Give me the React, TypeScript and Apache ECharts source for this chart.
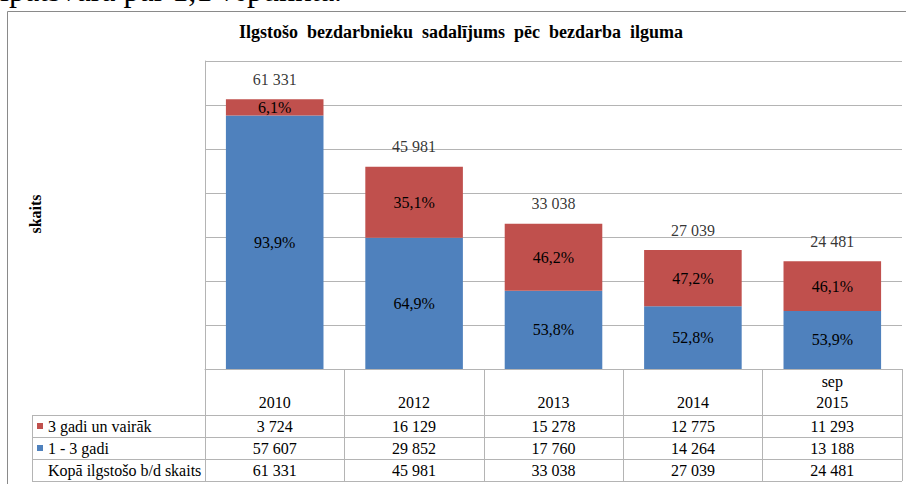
import React, { useEffect, useRef } from "react";
import * as echarts from "echarts";

const categories = ["2010", "2012", "2013", "2014", "sep\n2015"];
const seriesNames = ["1 - 3 gadi", "3 gadi un vairāk"];
const oneToThree = [57607, 29852, 17760, 14264, 13188];
const threePlus = [3724, 16129, 15278, 12775, 11293];
const totals = [61331, 45981, 33038, 27039, 24481];
const rowLabels = ["3 gadi un vairāk", "1 - 3 gadi", "Kopā ilgstošo b/d skaits"];
const tableRows = [threePlus, oneToThree, totals];
const yMin = 0;
const yMax = 70000;
const yStep = 10000;

const BLUE = "#4F81BD";
const RED = "#C0504D";
const GRID = "#b4b4b4";
const FONT = "Liberation Serif";

const fmt = (n: number) => String(n).replace(/\B(?=(\d{3})+(?!\d))/g, " ");
const pct = (v: number, i: number) =>
  ((v / totals[i]) * 100).toFixed(1).replace(".", ",") + "%";

export default function App() {
  const ref = useRef<HTMLDivElement>(null);
  useEffect(() => {
    if (!ref.current) return;
    const chart = echarts.init(ref.current, null, { renderer: "svg" });
    const rowCenters = [426, 448, 470];
    const lineYs = [415, 437, 459, 481];
    const graphic: any[] = [
      {
        type: "text",
        x: 0,
        y: -10,
        style: {
          text: "īpatsvara par 1,1 %punkta.",
          fontFamily: FONT,
          fontSize: 32,
          fill: "#000",
          align: "left",
          verticalAlign: "middle",
        },
      },
      {
        type: "rect",
        shape: { x: 7.5, y: 11.5, width: 960, height: 520 },
        style: { fill: "none", stroke: "#8a8a8a", lineWidth: 1 },
      },
      {
        type: "text",
        x: 461,
        y: 32,
        style: {
          text: "Ilgstošo  bezdarbnieku  sadalījums  pēc  bezdarba  ilguma",
          fontFamily: FONT,
          fontSize: 18,
          fontWeight: "bold",
          fill: "#000",
          align: "center",
          verticalAlign: "middle",
        },
      },
      {
        type: "text",
        x: 35,
        y: 214,
        rotation: Math.PI / 2,
        style: {
          text: "skaits",
          fontFamily: FONT,
          fontSize: 16,
          fontWeight: "bold",
          fill: "#000",
          align: "center",
          verticalAlign: "middle",
        },
      },
      ...lineYs.map((y) => ({
        type: "line",
        shape: { x1: 32, y1: y + 0.5, x2: 902, y2: y + 0.5 },
        style: { stroke: GRID, lineWidth: 1 },
      })),
      {
        type: "line",
        shape: { x1: 32.5, y1: 415, x2: 32.5, y2: 481 },
        style: { stroke: GRID, lineWidth: 1 },
      },
      {
        type: "rect",
        shape: { x: 37, y: 423, width: 6, height: 6 },
        style: { fill: RED },
      },
      {
        type: "rect",
        shape: { x: 37, y: 445, width: 6, height: 6 },
        style: { fill: BLUE },
      },
      ...rowLabels.map((t, i) => ({
        type: "text",
        x: 48,
        y: rowCenters[i],
        style: {
          text: t,
          fontFamily: FONT,
          fontSize: 16,
          fill: "#000",
          align: "left",
          verticalAlign: "middle",
        },
      })),
    ];

    const tableAxes = tableRows.map((row, i) => ({
      type: "category",
      gridIndex: 0,
      position: "bottom",
      offset: rowCenters[i] - 369,
      data: categories,
      axisLine: { show: false },
      axisTick: { show: false },
      splitLine: { show: false },
      axisLabel: {
        interval: 0,
        margin: 0,
        verticalAlign: "middle",
        fontFamily: FONT,
        fontSize: 16,
        color: "#000",
        formatter: (_v: string, idx: number) => fmt(row[idx]),
      },
    }));

    const barLabel = {
      show: true,
      position: "inside",
      fontFamily: FONT,
      fontSize: 16,
      color: "#000",
      formatter: (p: any) => pct(p.value, p.dataIndex),
    };

    chart.setOption({
      animation: false,
      grid: {
        left: 205,
        right: 4,
        top: 61,
        bottom: 115,
      },
      xAxis: [
        {
          type: "category",
          data: categories,
          axisLine: { show: true, lineStyle: { color: GRID, width: 1 } },
          axisTick: {
            show: true,
            interval: 0,
            length: 112,
            lineStyle: { color: GRID, width: 1 },
          },
          axisLabel: {
            interval: 0,
            margin: 44,
            verticalAlign: "bottom",
            lineHeight: 21,
            fontFamily: FONT,
            fontSize: 16,
            color: "#000",
          },
        },
        ...tableAxes,
      ],
      yAxis: {
        type: "value",
        min: yMin,
        max: yMax,
        interval: yStep,
        axisLabel: { show: false },
        axisTick: { show: false },
        axisLine: { show: true, lineStyle: { color: GRID, width: 1 } },
        splitLine: { show: true, lineStyle: { color: GRID, width: 1 } },
      },
      series: [
        {
          name: seriesNames[0],
          type: "bar",
          stack: "total",
          barCategoryGap: "30%",
          data: oneToThree,
          itemStyle: { color: BLUE },
          label: barLabel,
        },
        {
          name: seriesNames[1],
          type: "bar",
          stack: "total",
          barCategoryGap: "30%",
          data: threePlus,
          itemStyle: { color: RED },
          label: barLabel,
        },
        {
          name: "Kopā",
          type: "scatter",
          data: totals,
          symbolSize: 0,
          itemStyle: { color: "#000" },
          label: {
            show: true,
            position: "top",
            distance: 12,
            fontFamily: FONT,
            fontSize: 16,
            color: "#000",
            formatter: (p: any) => fmt(p.value),
          },
          z: 5,
        },
      ],
      graphic,
    });
    return () => chart.dispose();
  }, []);
  return (
    <div
      ref={ref}
      style={{ position: "absolute", left: 0, top: 0, width: 906, height: 484 }}
    />
  );
}
